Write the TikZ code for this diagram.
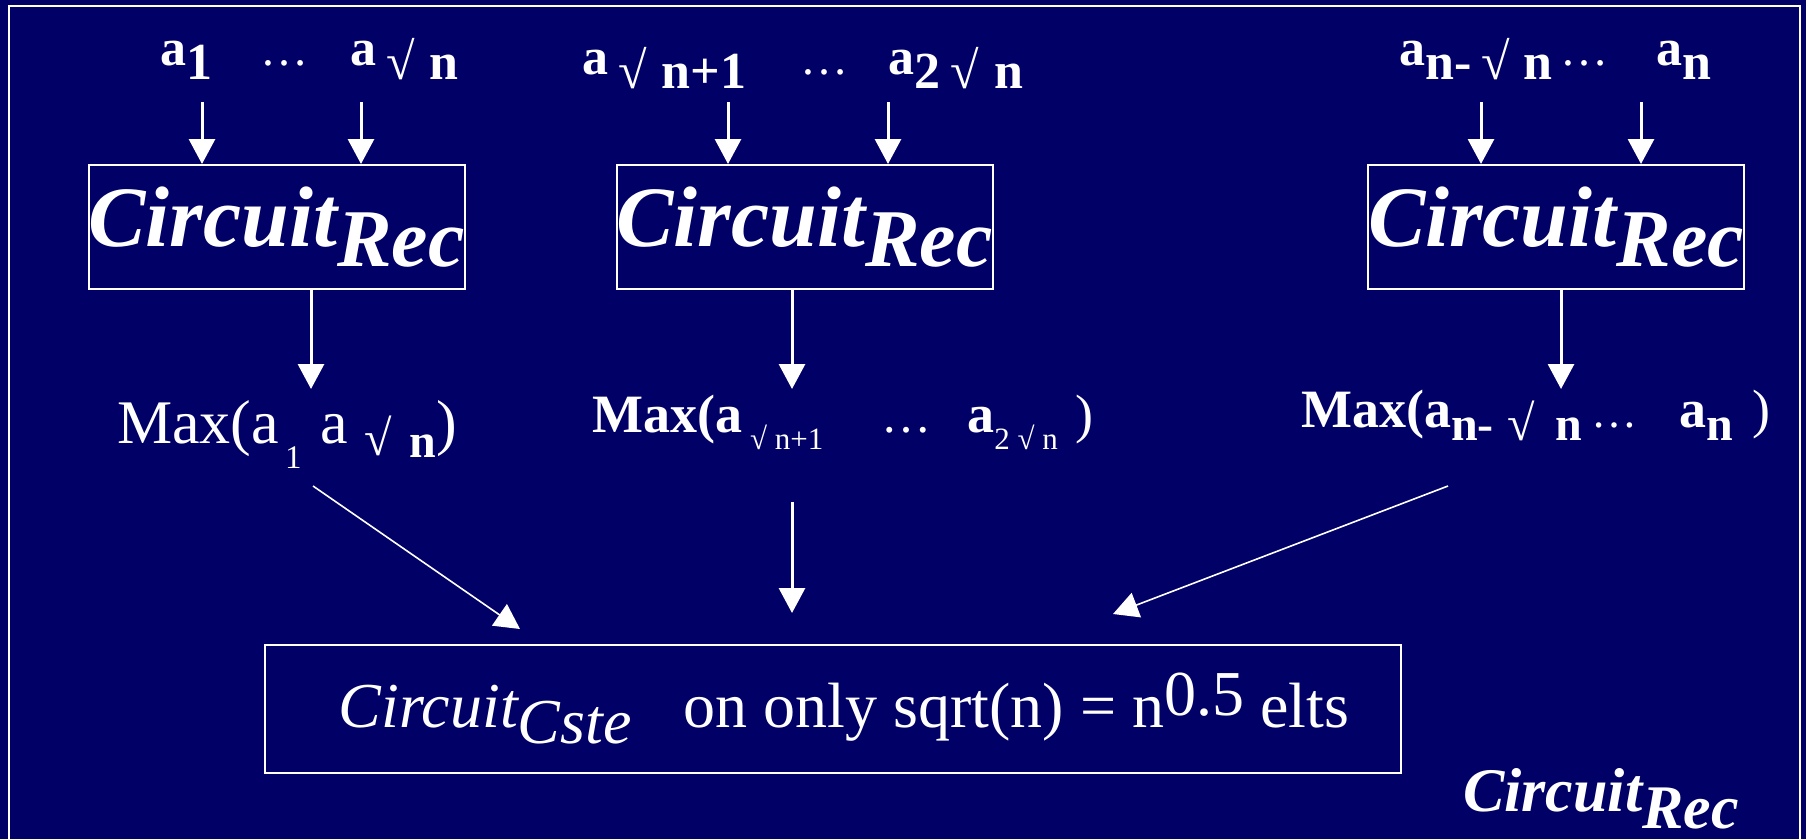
\documentclass[tikz,border=0pt]{standalone}
\usepackage{fontspec}
\setmainfont{Liberation Serif}
\usepackage{tikz}
\usetikzlibrary{arrows.meta}
\definecolor{slideblue}{RGB}{0,0,102}
\newcommand{\fs}[1]{\fontsize{#1}{#1}\selectfont}
\newcommand{\dn}[2]{\raisebox{-#1pt}{#2}}
\newcommand{\up}[2]{\raisebox{#1pt}{#2}}

\begin{document}
\begin{tikzpicture}[
    x=1pt, y=-1pt,
    every node/.style={text=white, inner sep=0pt},
    recbox/.style={draw=white, line width=2pt, minimum width=375pt,
                   minimum height=124pt},
    cstebox/.style={draw=white, line width=2pt, minimum width=1136pt,
                    minimum height=128pt},
    inlbl/.style={anchor=base west, font=\fs{52}\bfseries},
    maxlbl/.style={anchor=base west, font=\fs{54}\bfseries},
    bigarrow/.style={draw=white, line width=3pt,
                     -{Triangle[width=26pt, length=25pt]}},
    thinarrow/.style={draw=white, line width=1.6pt,
                      -{Triangle[width=26pt, length=25pt]}}
]
\useasboundingbox (0,0) rectangle (1806,839);
\fill[slideblue] (0,0) rectangle (1806,839);
\draw[white, line width=2pt] (9,839) -- (9,6) -- (1800,6) -- (1800,839);

% the three recursive circuits
\node[recbox] (rec1) at (276.5,227)
    {\fs{86}\bfseries\itshape Circuit\dn{20}{\fs{82}Rec}};
\node[recbox] (rec2) at (804.5,227)
    {\fs{86}\bfseries\itshape Circuit\dn{20}{\fs{82}Rec}};
\node[recbox] (rec3) at (1556,227)
    {\fs{86}\bfseries\itshape Circuit\dn{20}{\fs{82}Rec}};

% inputs
\node[inlbl] (in1) at (160,65)
    {a\dn{14}{1}\hspace{48pt}{\mdseries\fs{48}…}\hspace{42pt}a\dn{14}{\hspace{10pt}{\mdseries √}\hspace{15pt}n}};
\node[inlbl] (in2) at (582,74)
    {a\dn{14}{\hspace{10pt}{\mdseries √}\hspace{15pt}n+1}\hspace{54pt}{\mdseries\fs{48}…}\hspace{40pt}a\dn{14}{2\hspace{10pt}{\mdseries √}\hspace{16pt}n}};
\node[inlbl] (in3) at (1399,65)
    {a\dn{14}{n-\hspace{10pt}{\mdseries √}\hspace{14pt}n}\hspace{8pt}{\mdseries\fs{48}…}\hspace{48pt}a\dn{14}{n}};

\coordinate (i1a) at (202,102);
\coordinate (i1b) at (361,102);
\coordinate (i2a) at (728,102);
\coordinate (i2b) at (888,102);
\coordinate (i3a) at (1481,102);
\coordinate (i3b) at (1641,102);
\draw[bigarrow] (i1a) -- (i1a |- rec1.north);
\draw[bigarrow] (i1b) -- (i1b |- rec1.north);
\draw[bigarrow] (i2a) -- (i2a |- rec2.north);
\draw[bigarrow] (i2b) -- (i2b |- rec2.north);
\draw[bigarrow] (i3a) -- (i3a |- rec3.north);
\draw[bigarrow] (i3b) -- (i3b |- rec3.north);

% partial maxima
\node[anchor=base west, font=\fs{62}] (max1) at (117,443)
    {Max(a\hspace{6pt}\dn{25}{\fs{33}1}\hspace{19pt}a\hspace{16pt}\dn{12}{\fs{50}√}\hspace{18pt}\dn{14}{\fs{48}\bfseries n})};
\node[maxlbl] (max2) at (592,432)
    {Max(a\hspace{8pt}\dn{17}{\fs{31}\mdseries √ n+1}\hspace{58pt}{\mdseries\fs{50}…}\hspace{36pt}a\dn{17}{\fs{31}\mdseries 2 √ n}\hspace{18pt}{\mdseries )}};
\node[maxlbl] (max3) at (1301,427)
    {Max(a\dn{13}{\fs{48}n-}\hspace{14pt}\dn{13}{\fs{50}\mdseries √}\hspace{20pt}\dn{13}{\fs{48}n}\hspace{10pt}{\mdseries\fs{46}…}\hspace{42pt}a\dn{13}{\fs{48}n}\hspace{19pt}{\mdseries )}};

\coordinate (o1) at (311,389);
\coordinate (o2) at (792,389);
\coordinate (o3) at (1561,389);
\draw[bigarrow] (rec1.south -| o1) -- (o1);
\draw[bigarrow] (rec2.south -| o2) -- (o2);
\draw[bigarrow] (rec3.south -| o3) -- (o3);

% final constant-depth circuit
\node[cstebox] (cste) at (833,709)
    {\fs{64}\hspace{22pt}{\itshape Circuit\dn{16}{Cste}}\hspace{36pt} on only sqrt(n) = n\up{12}{0.5} elts};

\coordinate (m1) at (313,486);
\coordinate (m2) at (792,502);
\coordinate (m3) at (1448,486);
\draw[thinarrow] (m1) -- (520,629);
\draw[bigarrow] (m2) -- (m2 |- 0,613);
\draw[thinarrow] (m3) -- (1113,614);

\node[anchor=base west, font=\fs{62}\bfseries\itshape] (reclbl) at (1463,811)
    {Circuit\dn{17}{Rec}};
\end{tikzpicture}
\end{document}
